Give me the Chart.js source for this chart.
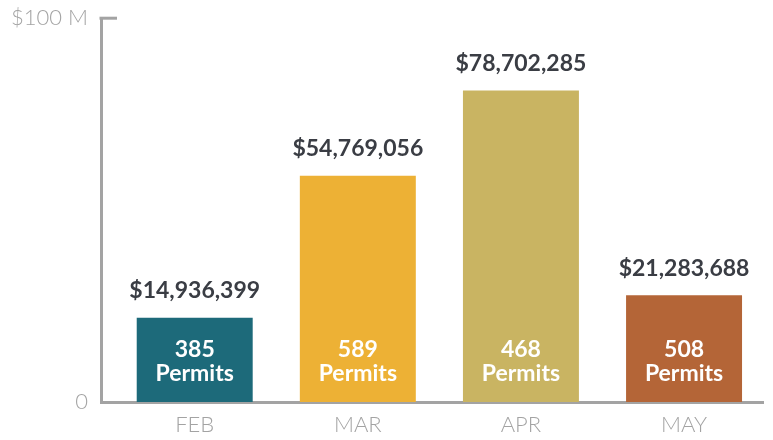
<!DOCTYPE html>
<html>
<head>
<meta charset="utf-8">
<script src="https://cdn.jsdelivr.net/npm/chart.js@4/dist/chart.umd.min.js"></script>
<style>
  html, body { margin: 0; padding: 0; background: #fff; }
  #wrap { width: 773px; height: 440px; }
</style>
</head>
<body>
<div id="wrap"><canvas id="chartMain"></canvas></div>
<script>
const months = ['FEB', 'MAR', 'APR', 'MAY'];
const valuation = [14936399, 54769056, 78702285, 21283688];
const permits = [385, 589, 468, 508];
const barColors = ['#1d6a7a', '#edb135', '#c9b462', '#b46537'];
const yTickLabels = ['0', '$100 M'];

const axisGrey = '#a3a3a3';
const yMin = -8.7e6, yMax = 99e6;
Chart.defaults.font.family = 'Lato, "Open Sans", sans-serif';

// value above each bar, permit count inside it, little tick at the top of the y axis
const barLabels = {
    id: 'barLabels',
    afterDatasetsDraw(chart) {
        const ctx = chart.ctx;
        const meta = chart.getDatasetMeta(0);
        ctx.save();
        ctx.textAlign = 'center';
        ctx.textBaseline = 'middle';
        meta.data.forEach((bar, i) => {
            ctx.fillStyle = '#3a3d44';
            ctx.font = 'bold 23px Lato, sans-serif';
            ctx.fillText('$' + valuation[i].toLocaleString('en-US'), bar.x, bar.y - 27);
            ctx.fillStyle = '#ffffff';
            ctx.font = 'bold 23px Lato, sans-serif';
            ctx.fillText(String(permits[i]), bar.x, bar.base - 52);
            ctx.fillText('Permits', bar.x, bar.base - 28);
        });
        const a = chart.chartArea;
        ctx.strokeStyle = axisGrey;
        ctx.lineWidth = 3;
        ctx.beginPath();
        ctx.moveTo(a.left - 1.5, a.top);
        ctx.lineTo(a.left + 16, a.top);
        ctx.stroke();
        ctx.restore();
    }
};

new Chart(document.getElementById('chartMain'), {
    type: 'bar',
    data: {
        datasets: [{
            data: valuation.map((v, i) => ({ x: i, y: v })),
            backgroundColor: barColors,
            base: yMin,
            categoryPercentage: 1,
            barPercentage: 0.711
        }]
    },
    plugins: [barLabels],
    options: {
        responsive: true, maintainAspectRatio: false, animation: false,
        layout: { padding: { top: 12, right: 10, left: 0, bottom: 0 } },
        plugins: { legend: { display: false }, tooltip: { enabled: false } },
        scales: {
            x: {
                type: 'linear', min: -0.5745, max: 3.484, offset: false,
                afterBuildTicks: s => { s.ticks = months.map((m, i) => ({ value: i })); },
                afterFit: s => { s.height = 38; },
                ticks: {
                    color: axisGrey, padding: 2,
                    font: { size: 22, weight: 300 },
                    callback: v => months[v]
                },
                grid: { display: false },
                border: { color: axisGrey, width: 3 }
            },
            y: {
                min: yMin, max: yMax,
                afterBuildTicks: s => { s.ticks = [{ value: s.min }, { value: s.max }]; },
                afterFit: s => { s.width = 101; },
                ticks: {
                    color: axisGrey, padding: 5,
                    font: { size: 22, weight: 300 },
                    callback: (v, i) => yTickLabels[i]
                },
                grid: { display: false },
                border: { color: axisGrey, width: 3 }
            }
        }
    }
});
</script>
</body>
</html>
